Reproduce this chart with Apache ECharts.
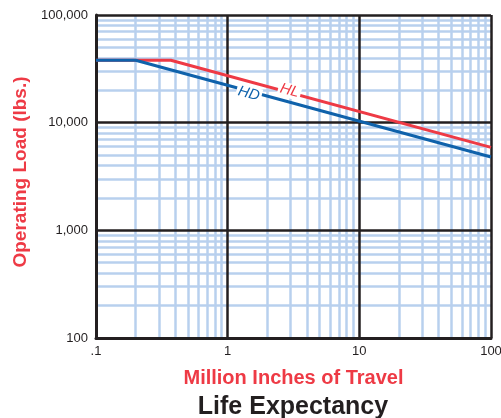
<!DOCTYPE html>
<html>
<head>
<meta charset="utf-8">
<script src="https://cdn.jsdelivr.net/npm/echarts@6/dist/echarts.min.js"></script>
<style>
  html, body { margin: 0; padding: 0; background: #fff; }
  #lifeChart { width: 501px; height: 418px; }
</style>
</head>
<body>
<div id="lifeChart"></div>
<script>
  // 数据 (million inches of travel, operating load lbs.)
  var hlPoints = [[0.1, 38000], [0.37, 38000], [100, 5900]]
  var hdPoints = [[0.1, 38000], [0.2, 38000], [100, 4800]]
  // label anchors on each curve
  var hlLabelAt = [2.95, 19800]
  var hdLabelAt = [1.45, 18600]
  var xTickLabels = ['.1', '1', '10', '100']
  var yTickLabels = ['100', '1,000', '10,000', '100,000']
  var xMinorLines = [0.2, 0.3, 0.4, 0.5, 0.6, 0.7, 0.8, 0.9, 2, 3, 4, 5, 6, 7, 8, 9, 20, 30, 40, 50, 60, 70, 80, 90]
  var yMinorLines = [200, 300, 400, 500, 600, 700, 800, 900, 2000, 3000, 4000, 5000, 6000, 7000, 8000, 9000,
    20000, 30000, 40000, 50000, 60000, 70000, 80000, 90000]

  var red = '#ee3a45'
  var blue = '#0f62ab'
  var gridBlue = '#b8d0ee'
  var font = 'Liberation Sans, Arial, sans-serif'

  var chart = echarts.init(document.getElementById('lifeChart'))

  var minorData = []
  xMinorLines.forEach(function (v) { minorData.push({ xAxis: v }) })
  yMinorLines.forEach(function (v) { minorData.push({ yAxis: v }) })

  function curveLabel (text, color, at) {
    return {
      symbol: 'circle',
      symbolSize: 1,
      silent: true,
      z: 6,
      itemStyle: { color: 'rgba(0,0,0,0)' },
      label: {
        show: true,
        position: 'inside',
        formatter: text,
        rotate: -15,
        color: color,
        fontStyle: 'italic',
        fontFamily: font,
        fontSize: 15,
        backgroundColor: '#fff',
        padding: [0, 2]
      },
      data: [{ coord: at }]
    }
  }

  var option = {
    backgroundColor: '#fff',
    animation: false,
    //标题
    title: {
      text: 'Life Expectancy',
      left: 288,
      top: 390,
      textAlign: 'center',
      textStyle: { color: '#231f20', fontFamily: font, fontWeight: 'bold', fontSize: 25 }
    },
    grid: { left: 96, right: 10, top: 15, bottom: 80, outerBoundsMode: 'none' },
    xAxis: {
      type: 'log',
      logBase: 10,
      min: 0.1,
      max: 100,
      z: 3,
      name: 'Million Inches of Travel',
      nameLocation: 'middle',
      nameGap: 30,
      nameTextStyle: { color: red, fontFamily: font, fontWeight: 'bold', fontSize: 20 },
      axisLine: { show: true, lineStyle: { color: '#231f20', width: 3 } },
      axisTick: { show: false },
      splitLine: { show: true, lineStyle: { color: '#231f20', width: 2.5 } },
      axisLabel: {
        margin: 7,
        color: '#231f20',
        fontFamily: font,
        fontSize: 13,
        formatter: function (v, i) { return xTickLabels[i] }
      }
    },
    yAxis: {
      type: 'log',
      logBase: 10,
      min: 100,
      max: 100000,
      z: 3,
      name: 'Operating Load (lbs.)',
      nameLocation: 'middle',
      nameGap: 61,
      nameTextStyle: { color: red, fontFamily: font, fontWeight: 'bold', fontSize: 19, padding: [0, 0, 0, 9] },
      axisLine: { show: true, lineStyle: { color: '#231f20', width: 3 } },
      axisTick: { show: false },
      splitLine: { show: true, lineStyle: { color: '#231f20', width: 2.5 } },
      axisLabel: {
        margin: 8,
        color: '#231f20',
        fontFamily: font,
        fontSize: 13,
        formatter: function (v, i) { return yTickLabels[i] }
      }
    },
    series: [
      {
        name: 'minor grid',
        type: 'line',
        data: [],
        z: 1,
        silent: true,
        markLine: {
          z: 1,
          silent: true,
          symbol: 'none',
          label: { show: false },
          lineStyle: { color: gridBlue, width: 2.5, type: 'solid' },
          emphasis: { disabled: true },
          data: minorData
        }
      },
      {
        name: 'HL',
        type: 'line',
        z: 5,
        data: hlPoints,
        showSymbol: false,
        lineStyle: { color: red, width: 3 },
        markPoint: curveLabel('HL', red, hlLabelAt)
      },
      {
        name: 'HD',
        type: 'line',
        z: 5,
        data: hdPoints,
        showSymbol: false,
        lineStyle: { color: blue, width: 3 },
        markPoint: curveLabel('HD', blue, hdLabelAt)
      }
    ]
  }
  chart.setOption(option)
</script>
</body>
</html>
